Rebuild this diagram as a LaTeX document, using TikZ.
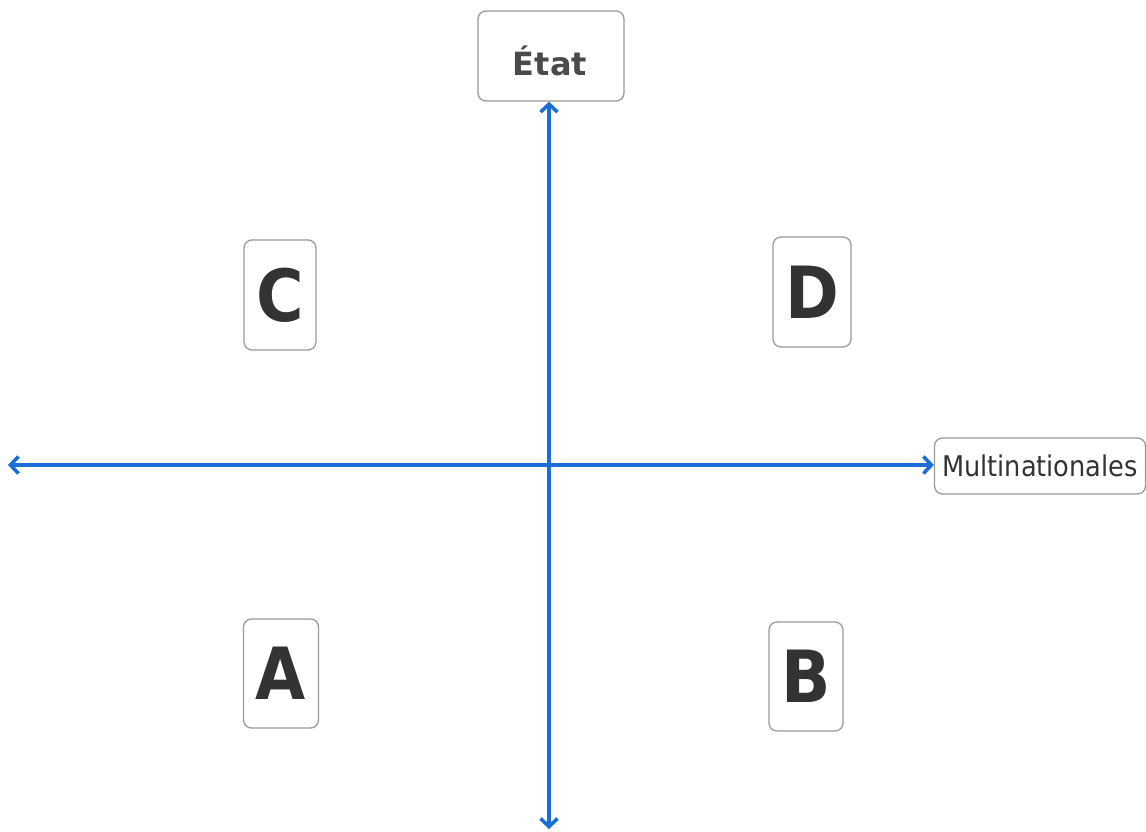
\documentclass[tikz,border=0pt]{standalone}
\usepackage{fontspec}
\setmainfont{DejaVu Sans}
\newfontfamily\labfont[FakeStretch=0.9]{DejaVu Sans}
\usetikzlibrary{arrows.meta}
\definecolor{axisblue}{HTML}{1A6FD6}
\definecolor{boxgray}{HTML}{9A9A9A}
\definecolor{txtdark}{HTML}{333333}
\definecolor{txtgray}{HTML}{4A4A4A}
\tikzset{
  qbox/.style={draw=boxgray, line width=1.3pt, rounded corners=8pt, fill=white, inner sep=0pt},
  letter/.style={qbox, text=txtdark, font=\labfont\bfseries\fontsize{72}{72}\selectfont},
  axis/.style={draw=axisblue, line width=3.6pt, {Straight Barb[length=8pt,width=17pt,line width=3.6pt]}-{Straight Barb[length=8pt,width=17pt,line width=3.6pt]}}
}
\begin{document}
\begin{tikzpicture}[x=1pt,y=-1pt]
\useasboundingbox (0,0) rectangle (1146,832);
\node[qbox, minimum width=146pt, minimum height=90pt] (etat) at (551,56) {};
\node[text=txtgray, font=\bfseries\fontsize{32}{32}\selectfont, inner sep=0pt] (etattext) at (550,61) {État};
\node[qbox, minimum width=211pt, minimum height=56pt, text=txtdark, font=\labfont\fontsize{28.5}{28.5}\selectfont] (multi) at (1040,466) {\raisebox{-1.5pt}{Multinationales}};
\node[letter, minimum width=72pt, minimum height=110pt] (C) at (280,295) {C};
\node[letter, minimum width=78pt, minimum height=110pt] (D) at (812,292) {D};
\node[letter, minimum width=75pt, minimum height=109pt] (A) at (281,673.5) {A};
\node[letter, minimum width=74pt, minimum height=109pt] (B) at (806,676.5) {B};
\coordinate (o) at (549,465);
\coordinate (bot) at (549,829);
\coordinate (left) at (8,465);
\draw[axis] (etat.south -| o) -- (bot);
\draw[axis] (left) -- (multi.west |- o);
\end{tikzpicture}
\end{document}
